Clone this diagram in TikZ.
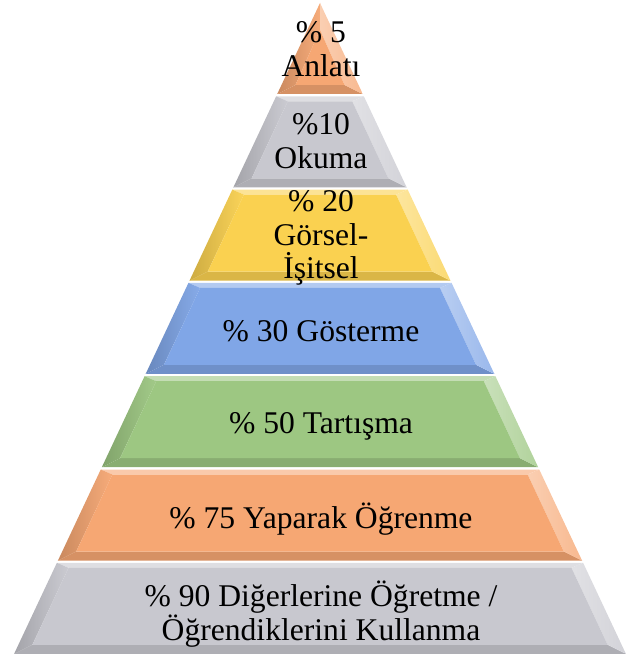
\documentclass[tikz,border=0pt]{standalone}
\usepackage{fontspec}
\setmainfont{Liberation Serif}
\definecolor{cOr}{RGB}{246,167,115}
\definecolor{cGr}{RGB}{200,200,207}
\definecolor{cYe}{RGB}{250,209,80}
\definecolor{cBl}{RGB}{128,166,231}
\definecolor{cGn}{RGB}{157,199,130}
\tikzset{
  lbl/.style={align=center, inner sep=0pt, font=\fontsize{31.6}{33.5}\selectfont, text=black},
}
\begin{document}
\begin{tikzpicture}[x=1pt,y=-1pt]
\useasboundingbox (0,0) rectangle (625,655);
\foreach \i/\c in {0/cOr,1/cGr,2/cYe,3/cBl,4/cGn,5/cOr,6/cGr}{
  \pgfmathsetmacro\t{3+93.3*\i}
  \pgfmathsetmacro\b{\t+91}
  \pgfmathsetmacro\tl{320-0.47*(\t-3)}
  \pgfmathsetmacro\tr{320+0.47*(\t-3)}
  \pgfmathsetmacro\bl{320-0.47*(\b-3)}
  \pgfmathsetmacro\br{320+0.47*(\b-3)}
  \pgfmathsetmacro\it{\i==0 ? 30 : \t+5}
  \pgfmathsetmacro\ib{\b-9}
  \pgfmathsetmacro\itl{min(320,320-0.47*(\it-3)+14)}
  \pgfmathsetmacro\itr{max(320,320+0.47*(\it-3)-14)}
  \pgfmathsetmacro\ibl{320-0.47*(\ib-3)+14}
  \pgfmathsetmacro\ibr{320+0.47*(\ib-3)-14}
  \fill[\c!60!white] (\tl,\t) -- (\tr,\t) -- (\itr,\it) -- (\itl,\it) -- cycle;
  \fill[\c!87!black] (\bl,\b) -- (\br,\b) -- (\ibr,\ib) -- (\ibl,\ib) -- cycle;
  \shade[left color=\c!82!black, right color=\c!95!white] (\tl,\t) -- (\itl,\it) -- (\ibl,\ib) -- (\bl,\b) -- cycle;
  \shade[left color=\c!55!white, right color=\c!80!white] (\tr,\t) -- (\itr,\it) -- (\ibr,\ib) -- (\br,\b) -- cycle;
  \fill[\c] (\itl,\it) -- (\itr,\it) -- (\ibr,\ib) -- (\ibl,\ib) -- cycle;
}
\node[lbl] (l1) at (321,49) {\% 5\\Anlatı};
\node[lbl] (l2) at (321,141) {\%10\\Okuma};
\node[lbl] (l3) at (321,238) {\% 20\\Görsel-\\İşitsel};
\node[lbl, anchor=base] (l4) at (321,341) {\% 30 Gösterme};
\node[lbl, anchor=base] (l5) at (321,433) {\% 50 Tartışma};
\node[lbl, anchor=base] (l6) at (321,528) {\% 75 Yaparak Öğrenme};
\node[lbl] (l7) at (321,614) {\% 90 Diğerlerine Öğretme /\\Öğrendiklerini Kullanma};
\end{tikzpicture}
\end{document}
